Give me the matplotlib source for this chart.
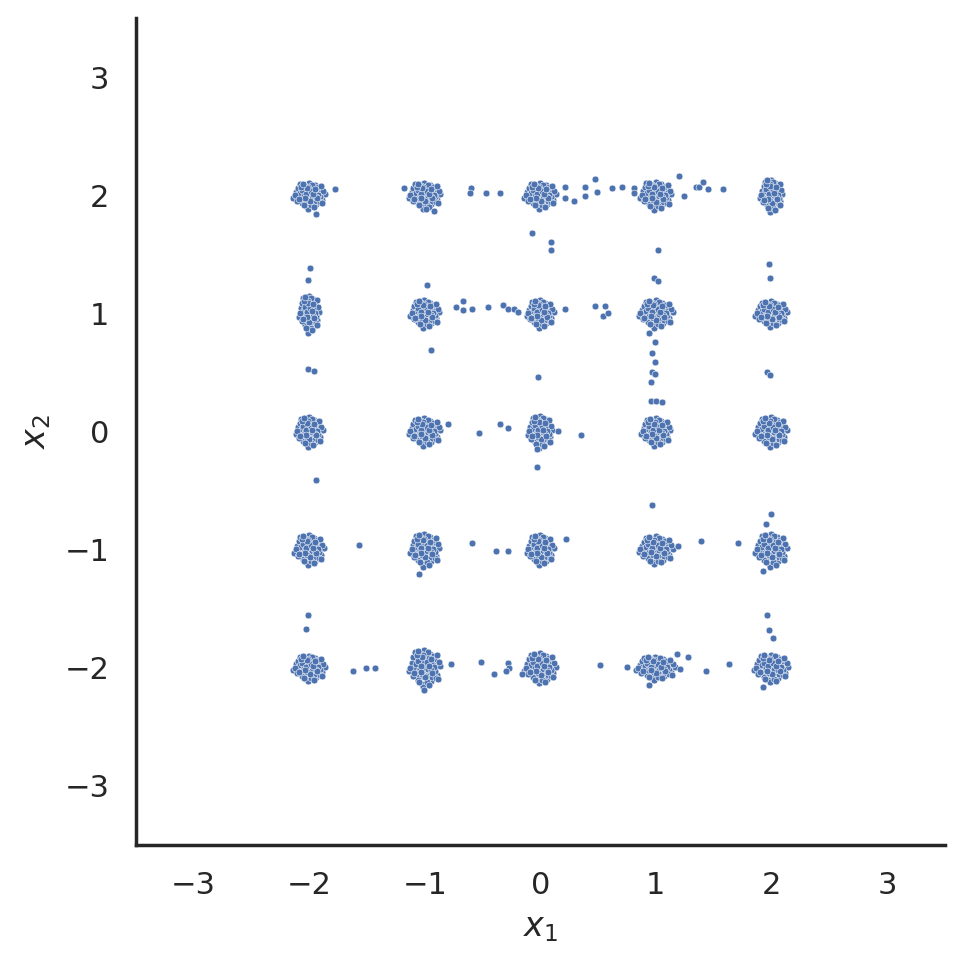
import numpy as np
import matplotlib
matplotlib.use("Agg")
import matplotlib.pyplot as plt
import seaborn as sns

# cluster centres (5 x 5 grid) and per-cluster spread
center_x = [-2, -1, 0, 1, 2] * 5
center_y = [2] * 5 + [1] * 5 + [0] * 5 + [-1] * 5 + [-2] * 5
spread_x = [0.066, 0.066, 0.066, 0.066, 0.046,
            0.041, 0.061, 0.056, 0.071, 0.066,
            0.056, 0.066, 0.051, 0.061, 0.066,
            0.061, 0.061, 0.056, 0.071, 0.066,
            0.066, 0.066, 0.066, 0.081, 0.071]
spread_y = [0.056, 0.056, 0.056, 0.061, 0.071,
            0.081, 0.061, 0.061, 0.061, 0.056,
            0.066, 0.061, 0.071, 0.061, 0.066,
            0.066, 0.071, 0.066, 0.061, 0.071,
            0.056, 0.081, 0.066, 0.051, 0.061]

# hand-typed shape of one blob, in units of its spread
blob_u = [0.12, 1.05, -0.87, 0.44, -1.31, 0.71, -0.25, 1.62, -0.58, 0.09,
          -1.74, 0.93, -0.36, 1.27, -1.02, 0.31, -0.15, 0.58, -0.69, 2.05,
          -0.04, 0.83, -1.48, 0.22, 1.39, -0.92, 0.47, -0.41, 0.00, -2.10,
          1.11, -0.21, 0.66, -1.17, 0.36, -0.52, 1.84, -0.79, 0.18, 0.95,
          -1.60, 0.53, -0.10, 1.43, -0.33, 0.77, -1.24, 0.27, -0.64, 1.20,
          -0.95, 0.04, 1.55, -0.47, 0.39, -1.88, 0.86, -0.18, 0.61, -0.73,
          0.25, -0.30, 1.00, -1.05, 0.50, -0.55, 1.70, -1.40, 0.80, -0.85]
blob_v = [-0.45, 0.33, 0.91, -1.22, -0.18, 1.48, 0.06, -0.71, -0.94, 1.12,
          0.52, -0.08, -1.67, 0.88, -0.61, 0.39, -0.27, -0.55, 0.24, 0.15,
          1.83, -1.41, 1.07, -0.83, -0.31, -1.23, 0.71, 0.62, -0.05, -0.38,
          1.19, -2.02, 0.12, 0.35, -0.12, 1.39, 0.62, -0.36, 0.92, -0.92,
          -0.85, 1.01, 0.45, -1.05, -0.70, 0.48, 1.62, -1.52, -0.08, 0.05,
          0.71, -0.93, 1.35, 0.18, 1.61, 0.02, -0.27, 1.28, -1.78, -1.52,
          0.60, 1.10, -0.50, 1.30, 0.20, -0.40, -1.20, -0.60, 0.95, 1.75]

# scattered points between the blobs
stray_x = [-1.78, -1.94, -1.18, -0.99, -0.92, -0.60, -0.61, -0.47, -0.35, 0.21,
           0.21, 0.29, 0.39, 0.47, 0.49, 0.39, 0.62, 0.71, 0.81, 0.81,
           1.20, 1.24, 1.35, 1.37, 1.41, 1.45, 1.58, -0.07, 0.09, 0.09,
           1.02, -1.99, -2.01, -0.98, -0.73, -0.67, -0.67, -0.59, -0.45, -0.32,
           -0.28, -0.23, -0.19, 0.47, 0.56, 0.54, 0.59, 0.21, 0.98, 1.02,
           0.94, 0.99, 0.97, 0.99, 0.97, 0.99, 1.98, 1.99, -0.95, -2.01,
           -1.96, 1.96, -0.02, 0.96, 0.96, 1.00, 1.05, 1.99, -0.80, -0.53,
           -0.35, -0.28, 0.15, 0.35, -0.03, -0.03, -1.94, -1.57, -1.05, -0.59,
           -0.38, -0.28, 0.22, 0.97, 1.19, 1.39, 1.71, 2.00, 1.95, 1.93,
           -2.01, -2.03, -1.62, -1.51, -1.43, -0.77, -0.51, -0.40, -0.28, -0.27,
           -0.30, -0.16, 0.52, 0.75, 1.18, 1.28, 1.21, 1.43, 1.63, 1.96,
           1.98, 2.01, 1.93, -1.01, 0.94]
stray_y = [2.05, 1.84, 2.06, 1.88, 1.87, 2.06, 2.02, 2.02, 2.02, 2.07,
           1.98, 1.95, 2.07, 2.14, 2.03, 1.99, 2.06, 2.07, 2.06, 2.02,
           2.16, 1.99, 2.07, 2.07, 2.11, 2.05, 2.05, 1.68, 1.60, 1.54,
           1.54, 1.38, 1.28, 1.24, 1.05, 1.10, 1.03, 1.04, 1.05, 1.07,
           1.04, 1.04, 1.01, 1.06, 1.06, 0.98, 1.00, 1.04, 1.30, 1.27,
           0.83, 0.76, 0.66, 0.59, 0.50, 0.49, 1.42, 1.30, 0.69, 0.53,
           0.51, 0.50, 0.46, 0.42, 0.26, 0.26, 0.25, 0.48, 0.06, -0.01,
           0.06, 0.03, 0.00, -0.03, -0.15, -0.30, -0.41, -0.96, -1.21, -0.94,
           -1.01, -1.01, -0.91, -0.62, -0.97, -0.93, -0.94, -0.70, -0.78, -1.18,
           -1.55, -1.67, -2.03, -2.00, -2.00, -1.97, -1.95, -2.05, -1.96, -2.00,
           -2.03, -2.05, -1.98, -1.99, -1.88, -1.91, -2.01, -2.03, -1.97, -1.55,
           -1.68, -1.75, -2.16, -2.19, -2.15]

xs = []
ys = []
for cx, cy, sx, sy in zip(center_x, center_y, spread_x, spread_y):
    xs.extend(cx + sx * np.array(blob_u))
    ys.extend(cy + sy * np.array(blob_v))
xs.extend(stray_x)
ys.extend(stray_y)

sns.set_theme(style="white")
fig = plt.figure(figsize=(4.82, 4.825), dpi=200)
ax = fig.add_axes([0.141, 0.1244, 0.839, 0.857])
sns.scatterplot(x=xs, y=ys, s=6, ax=ax)
ax.set_xlim(-3.5, 3.5)
ax.set_ylim(-3.5, 3.5)
ax.set_xticks([-3, -2, -1, 0, 1, 2, 3])
ax.set_yticks([-3, -2, -1, 0, 1, 2, 3])
ax.set_xlabel("$x_1$")
ax.set_ylabel("$x_2$")
sns.despine(ax=ax)
fig.savefig("out.png", dpi=200)
